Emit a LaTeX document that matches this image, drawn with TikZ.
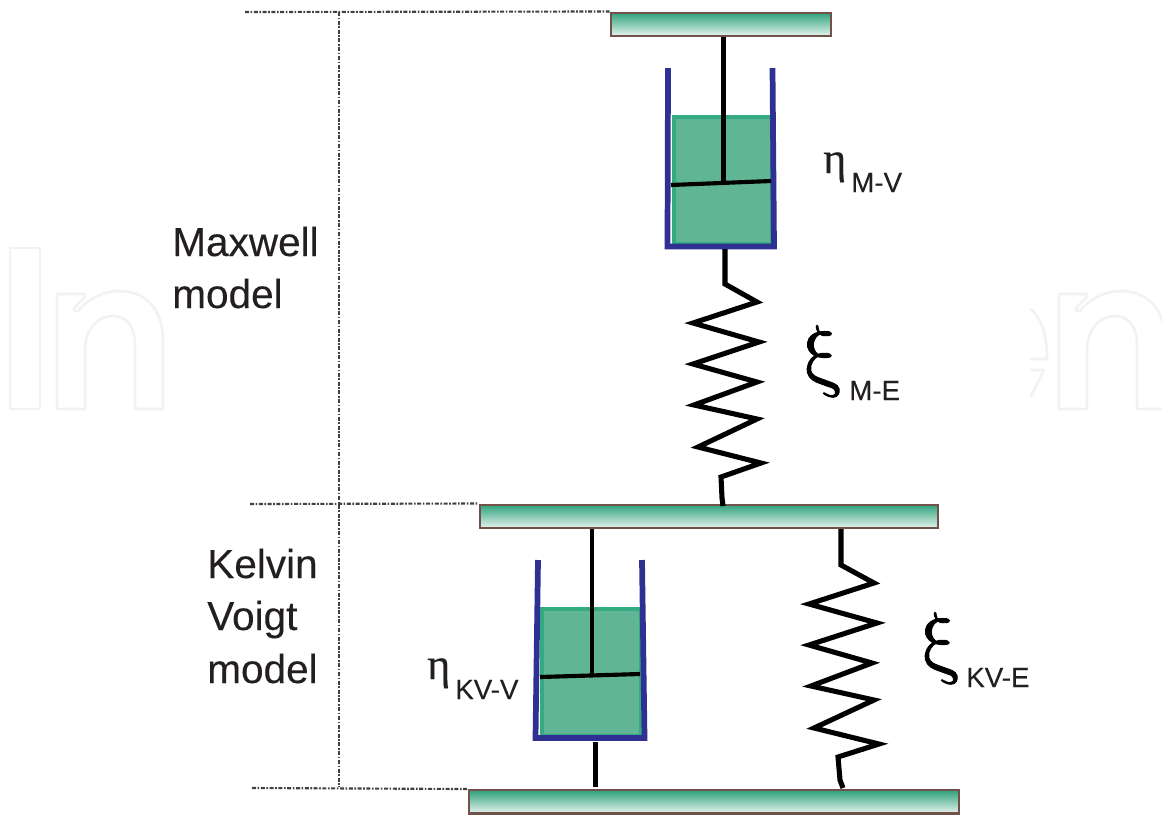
\documentclass[tikz,border=0pt]{standalone}
\usepackage{fontspec}
\setmainfont{Liberation Sans}[FakeBold=0.25]
\newfontfamily\grk{Liberation Serif}[FakeBold=0.4]
\definecolor{plateedge}{HTML}{70524A}
\definecolor{platetop}{HTML}{2FA27C}
\definecolor{platebot}{HTML}{E6F3EE}
\definecolor{cupblue}{HTML}{2E3192}
\definecolor{fluidfill}{HTML}{5FB594}
\definecolor{fluidedge}{HTML}{34AA83}
\definecolor{markgray}{HTML}{F1F2F2}
\definecolor{inkcol}{HTML}{231F20}
\definecolor{guidecol}{HTML}{404040}
\newcommand{\heavyxi}{\special{pdf:code 2 Tr 0.3 w}$\xi$\special{pdf:code 0 Tr}}
\tikzset{
  x=0.75pt,y=-0.75pt,
  plate/.style={rectangle,draw=plateedge,line width=1.7pt,top color=platetop,bottom color=platebot,minimum height=17.5pt,inner sep=0pt,anchor=north west},
  fluid/.style={rectangle,draw=fluidedge,fill=fluidfill,line width=3pt,minimum width=74pt,minimum height=95.5pt,inner sep=0pt,anchor=north west},
  rod/.style={draw=black,line width=3.6pt},
  piston/.style={draw=black,line width=3.1pt},
  springline/.style={draw=black,line width=3.8pt,line join=miter,miter limit=6},
  cup/.style={draw=cupblue,line width=4.3pt,line join=miter},
  guide/.style={draw=guidecol,line width=1.6pt,dash pattern=on 3pt off 1.2pt on 1.2pt off 1.2pt},
  wmark/.style={draw=markgray,line width=2pt,line join=round,line cap=round},
  lab/.style={inner sep=0pt,anchor=base west,text=inkcol,font=\fontsize{30.4}{36}\selectfont,align=left},
  subl/.style={inner sep=0pt,anchor=base west,text=inkcol,font=\fontsize{20.8}{24}\selectfont},
  eta/.style={inner sep=0pt,anchor=base west,text=inkcol,font=\grk\fontsize{33}{36}\selectfont},
  xi/.style={inner sep=0pt,anchor=base west,text=black,scale=2.41,xslant=-0.24,font=\Huge},
}
\newcommand{\markletter}{%
  \draw[wmark] (57,409) -- (57,294) -- (85,294) -- (85,297) -- (74,308)
    .. controls (73,311) and (76,312) .. (78,311)
    .. controls (88,299) and (103,291) .. (119,291)
    .. controls (146,291) and (163,310) .. (163,340) -- (163,409) -- (135,409) -- (135,345)
    .. controls (135,327) and (127,316) .. (113,316)
    .. controls (97,316) and (85,330) .. (85,350) -- (85,409) -- cycle;}
\begin{document}
\begin{tikzpicture}
\useasboundingbox (0,0) rectangle (1162,815);
\begin{scope}
\clip (0,0) rectangle (1162,815);
\draw[wmark] (10,248) rectangle (40,409);
\markletter
\begin{scope}[xshift=751.5pt]\markletter\end{scope}
\draw[wmark] (1031,309) .. controls (1041,318) and (1047,335) .. (1047,359) -- (1031,359);
\draw[wmark] (1031,370) -- (1044,370) -- (1031,396);
\end{scope}

\coordinate (gt) at (245,12);
\coordinate (gm) at (250,504);
\coordinate (gb) at (252,788);
\coordinate (vt) at (339,12);
\coordinate (vb) at (339,787);

\node[plate,minimum width=165pt] (platetopn) at (609.5,11.5) {};
\node[plate,minimum width=344pt] (platemid) at (478.5,503.5) {};
\node[plate,minimum width=368pt] (platebot) at (467.5,789) {};

\draw[guide] (gt) -- (platetopn.north west);
\draw[guide] (gm) -- (platemid.north west);
\draw[guide] (gb) -- (platebot.north west);
\draw[guide] (vt) -- (vb);

% Maxwell dashpot
\node[fluid] (fluida) at (671.5,115) {};
\draw[cup] (668,68) -- (667.5,246.5) -- (774,246.5) -- (772.5,68);
\coordinate (pal) at (671,185);
\coordinate (par) at (771,181);
\coordinate (paj) at (723.5,183);
\draw[rod] (platetopn.south -| paj) -- (paj);
\draw[piston] (pal) -- (par);
\coordinate (sa0) at (725,249);
% Maxwell spring
\draw[springline] (sa0) -- (725,284) -- (757,302) -- (693,323) -- (759,342) -- (693,364) -- (757,382) -- (694,405) -- (757,419) -- (698,447) -- (761,463) -- (721,477) -- (722,498) -- (723,506);

% Kelvin-Voigt dashpot
\node[fluid] (fluidb) at (540,607) {};
\draw[cup] (538,560) -- (535.5,738) -- (644.5,738) -- (642,560);
\coordinate (pbl) at (540,677);
\coordinate (pbr) at (640,674);
\coordinate (pbj) at (592,675.5);
\draw[rod] (platemid.south -| pbj) -- (pbj);
\draw[piston] (pbl) -- (pbr);
\coordinate (pbb) at (595.5,742);
\draw[rod] (pbb) -- (595.5,787);

% Kelvin-Voigt spring
\coordinate (sb0) at (841,529);
\draw[springline] (sb0) -- (841,565) -- (874,583) -- (809,604) -- (877,623) -- (809,645) -- (872,663) -- (811,686) -- (874,700) -- (814,728) -- (879,744) -- (838,757) -- (840,780) -- (843,788);

% Labels
\node[lab] (maxa) at (172,256) {Maxwell};
\node[lab] (maxb) at (172,308) {model};
\node[lab] (kva) at (207,578) {Kelvin};
\node[lab] (kvb) at (207,630) {Voigt};
\node[lab] (kvc) at (207,683) {model};

\node[eta] (etaa) at (823,173) {η};
\node[subl] (etaas) at (851,192) {M-V};
\node[xi] (xia) at (807,381) {\heavyxi};
\node[subl] (xias) at (849,400) {M-E};
\node[eta] (etab) at (427,679) {η};
\node[subl] (etabs) at (455,699) {KV-V};
\node[xi] (xib) at (925,668) {\heavyxi};
\node[subl] (xibs) at (966,687) {KV-E};
\end{tikzpicture}
\end{document}
